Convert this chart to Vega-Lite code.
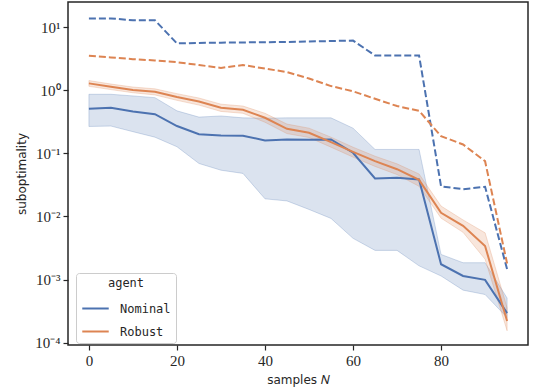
{
  "$schema": "https://vega.github.io/schema/vega-lite/v6.json",
  "width": 460,
  "height": 343,
  "autosize": {"type": "none"},
  "padding": {"left": 68, "top": 2, "right": 10, "bottom": 46},
  "background": "white",
  "config": {
    "view": {"stroke": "#262626", "strokeWidth": 1.5},
    "axis": {
      "domain": false,
      "grid": false,
      "ticks": true,
      "tickColor": "#262626",
      "tickSize": 5,
      "tickWidth": 1.2,
      "labelFont": "Liberation Serif",
      "labelFontSize": 15,
      "labelColor": "#262626",
      "titleFont": "DejaVu Sans",
      "titleFontSize": 12,
      "titleFontWeight": "normal",
      "titleColor": "#262626"
    }
  },
  "data": {
    "values": [
      {"N": 0, "agent": "Nominal", "mean": 0.507, "lo": 0.266, "hi": 0.86, "mx": 13.6},
      {"N": 5, "agent": "Nominal", "mean": 0.525, "lo": 0.27, "hi": 0.86, "mx": 13.7},
      {"N": 10, "agent": "Nominal", "mean": 0.46, "lo": 0.22, "hi": 0.81, "mx": 12.8},
      {"N": 15, "agent": "Nominal", "mean": 0.417, "lo": 0.18, "hi": 0.76, "mx": 12.8},
      {"N": 20, "agent": "Nominal", "mean": 0.27, "lo": 0.127, "hi": 0.47, "mx": 5.5},
      {"N": 25, "agent": "Nominal", "mean": 0.2, "lo": 0.069, "hi": 0.374, "mx": 5.6},
      {"N": 30, "agent": "Nominal", "mean": 0.192, "lo": 0.054, "hi": 0.39, "mx": 5.65},
      {"N": 35, "agent": "Nominal", "mean": 0.19, "lo": 0.048, "hi": 0.364, "mx": 5.7},
      {"N": 40, "agent": "Nominal", "mean": 0.16, "lo": 0.019, "hi": 0.36, "mx": 5.75},
      {"N": 45, "agent": "Nominal", "mean": 0.166, "lo": 0.0176, "hi": 0.364, "mx": 5.8},
      {"N": 50, "agent": "Nominal", "mean": 0.164, "lo": 0.0129, "hi": 0.364, "mx": 5.9},
      {"N": 55, "agent": "Nominal", "mean": 0.166, "lo": 0.0093, "hi": 0.364, "mx": 6.0},
      {"N": 60, "agent": "Nominal", "mean": 0.102, "lo": 0.0045, "hi": 0.25, "mx": 6.1},
      {"N": 65, "agent": "Nominal", "mean": 0.04, "lo": 0.0029, "hi": 0.115, "mx": 3.54},
      {"N": 70, "agent": "Nominal", "mean": 0.041, "lo": 0.0029, "hi": 0.115, "mx": 3.54},
      {"N": 75, "agent": "Nominal", "mean": 0.0386, "lo": 0.00165, "hi": 0.115, "mx": 3.55},
      {"N": 80, "agent": "Nominal", "mean": 0.00175, "lo": 0.00114, "hi": 0.0025, "mx": 0.03},
      {"N": 85, "agent": "Nominal", "mean": 0.00114, "lo": 0.00068, "hi": 0.00185, "mx": 0.027},
      {"N": 90, "agent": "Nominal", "mean": 0.00099, "lo": 0.00058, "hi": 0.00185, "mx": 0.0295},
      {"N": 95, "agent": "Nominal", "mean": 0.000294, "lo": 0.00025, "hi": 0.00051, "mx": 0.00146},
      {"N": 0, "agent": "Robust", "mean": 1.28, "lo": 1.15, "hi": 1.42, "mx": 3.5},
      {"N": 5, "agent": "Robust", "mean": 1.13, "lo": 1.02, "hi": 1.25, "mx": 3.3},
      {"N": 10, "agent": "Robust", "mean": 1.01, "lo": 0.91, "hi": 1.12, "mx": 3.1},
      {"N": 15, "agent": "Robust", "mean": 0.94, "lo": 0.84, "hi": 1.05, "mx": 2.95},
      {"N": 20, "agent": "Robust", "mean": 0.78, "lo": 0.69, "hi": 0.88, "mx": 2.77},
      {"N": 25, "agent": "Robust", "mean": 0.66, "lo": 0.58, "hi": 0.75, "mx": 2.5},
      {"N": 30, "agent": "Robust", "mean": 0.525, "lo": 0.46, "hi": 0.6, "mx": 2.25},
      {"N": 35, "agent": "Robust", "mean": 0.49, "lo": 0.43, "hi": 0.56, "mx": 2.5},
      {"N": 40, "agent": "Robust", "mean": 0.365, "lo": 0.31, "hi": 0.43, "mx": 2.2},
      {"N": 45, "agent": "Robust", "mean": 0.244, "lo": 0.205, "hi": 0.29, "mx": 1.93},
      {"N": 50, "agent": "Robust", "mean": 0.211, "lo": 0.178, "hi": 0.25, "mx": 1.53},
      {"N": 55, "agent": "Robust", "mean": 0.15, "lo": 0.125, "hi": 0.18, "mx": 1.16},
      {"N": 60, "agent": "Robust", "mean": 0.105, "lo": 0.087, "hi": 0.125, "mx": 0.96},
      {"N": 65, "agent": "Robust", "mean": 0.075, "lo": 0.062, "hi": 0.09, "mx": 0.73},
      {"N": 70, "agent": "Robust", "mean": 0.056, "lo": 0.046, "hi": 0.068, "mx": 0.56},
      {"N": 75, "agent": "Robust", "mean": 0.038, "lo": 0.03, "hi": 0.047, "mx": 0.47},
      {"N": 80, "agent": "Robust", "mean": 0.0114, "lo": 0.0094, "hi": 0.0146, "mx": 0.187},
      {"N": 85, "agent": "Robust", "mean": 0.0071, "lo": 0.0056, "hi": 0.0088, "mx": 0.138},
      {"N": 90, "agent": "Robust", "mean": 0.0034, "lo": 0.0021, "hi": 0.0055, "mx": 0.075},
      {"N": 95, "agent": "Robust", "mean": 0.00022, "lo": 0.000155, "hi": 0.00036, "mx": 0.0018}
    ]
  },
  "encoding": {
    "x": {
      "field": "N",
      "type": "quantitative",
      "scale": {"domain": [-4.75, 99.75], "nice": false, "zero": false},
      "axis": {"values": [0, 20, 40, 60, 80], "title": "samples 𝑁", "titlePadding": 6, "labelPadding": 3}
    }
  },
  "resolve": {"legend": {"stroke": "independent", "fill": "independent"}},
  "layer": [
    {
      "mark": {"type": "area", "fillOpacity": 0.2, "strokeWidth": 1, "strokeOpacity": 0.25},
      "encoding": {
        "y": {"field": "lo", "type": "quantitative"},
        "y2": {"field": "hi"},
        "fill": {"field": "agent", "type": "nominal", "legend": null, "scale": {"domain": ["Nominal", "Robust"], "range": ["#4c72b0", "#dd8452"]}},
        "stroke": {"field": "agent", "type": "nominal", "legend": null}
      }
    },
    {
      "mark": {"type": "line", "strokeWidth": 2, "strokeDash": [7, 3]},
      "encoding": {
        "y": {"field": "mx", "type": "quantitative"},
        "stroke": {"field": "agent", "type": "nominal", "legend": null}
      }
    },
    {
      "mark": {"type": "line", "strokeWidth": 2},
      "encoding": {
        "y": {
          "field": "mean",
          "type": "quantitative",
          "scale": {"type": "log", "domain": [0.000092, 24.9], "nice": false},
          "axis": {
            "values": [0.0001, 0.001, 0.01, 0.1, 1, 10],
            "title": "suboptimality",
            "titlePadding": 6,
            "labelPadding": 3,
            "labelExpr": "'10' + (datum.value > 5 ? '¹' : datum.value > 0.5 ? '⁰' : datum.value > 0.05 ? '⁻¹' : datum.value > 0.005 ? '⁻²' : datum.value > 0.0005 ? '⁻³' : '⁻⁴')"
          }
        },
        "stroke": {
          "field": "agent",
          "type": "nominal",
          "scale": {"domain": ["Nominal", "Robust"], "range": ["#4c72b0", "#dd8452"]},
          "legend": {
            "orient": "none",
            "legendX": 8,
            "legendY": 271,
            "title": "agent",
            "titleFont": "DejaVu Sans Mono",
            "titleFontSize": 12,
            "titleFontWeight": "normal",
            "titleAnchor": "middle",
            "titleColor": "#262626",
            "titlePadding": 4,
            "labelFont": "DejaVu Sans Mono",
            "labelFontSize": 12,
            "labelColor": "#262626",
            "labelOffset": 10,
            "symbolType": "stroke",
            "symbolSize": 700,
            "symbolStrokeWidth": 2,
            "rowPadding": 2,
            "padding": 5,
            "strokeColor": "#cccccc",
            "fillColor": "rgba(255,255,255,0.8)",
            "cornerRadius": 3
          }
        }
      }
    }
  ]
}
